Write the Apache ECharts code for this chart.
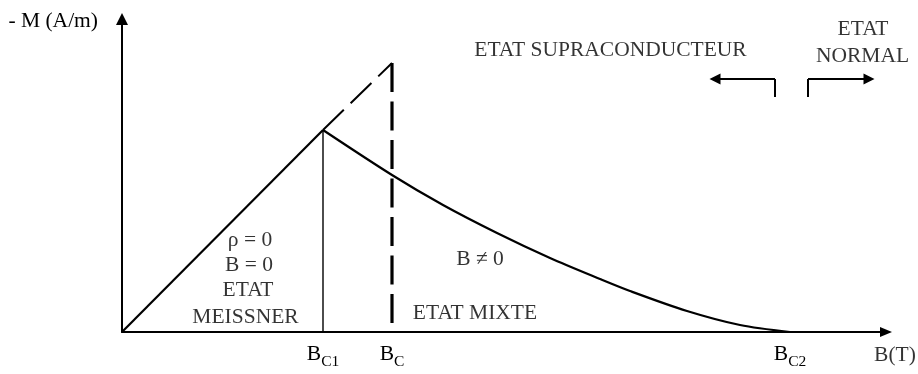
<!DOCTYPE html>
<html>
<head>
<meta charset="utf-8">
<script src="https://cdn.jsdelivr.net/npm/echarts@6/dist/echarts.min.js"></script>
<style>
  html, body { margin: 0; padding: 0; background: #fff; }
  #chart { width: 918px; height: 374px; }
</style>
</head>
<body>
<div id="chart"></div>
<script>
// Magnetisation curve of a type II superconductor (arbitrary units)
const criticalFields = [201, 270, 668];          // B_C1, B_C, B_C2
const criticalLabels = ['C1', 'C', 'C2'];
const meissnerLine = [[0, 0], [201, 202]];       // -M = B/mu0 up to B_C1
const extensionLine = [[201, 202], [270, 269]];  // ideal type I continuation
const bcDrop = [[270, 269], [270, 0]];           // type I drop at B_C
const bc1Drop = [[201, 0], [201, 202]];
const mixedCurve = [
  [201, 202], [270, 157], [321, 127], [375, 99], [428, 74],
  [478, 53], [508, 41], [565, 21], [618, 7], [668, 0]
];

const FONT = '"Liberation Serif", "Times New Roman", serif';
const INK = '#000';
const TEXT_SIZE = 21.5;

// Region captions placed in data space
const captions = [
  { text: 'ρ = 0', at: [128, 92] },
  { text: 'B = 0', at: [127, 67] },
  { text: 'ETAT', at: [126, 41.5] },
  { text: 'MEISSNER', at: [123.5, 15] },
  { text: 'B ≠ 0', at: [358, 73] },
  { text: 'ETAT MIXTE', at: [353, 19] },
  { text: 'ETAT SUPRACONDUCTEUR', at: [488.5, 282] },
  { text: 'ETAT', at: [741, 302.5] },
  { text: 'NORMAL', at: [740.5, 275.5] },
  { text: 'B(T)', at: [773, -23] }
];

// Bracket arrows separating superconducting and normal states
const bracketStems = [
  { coords: [[653, 235], [653, 253]] },
  { coords: [[686, 235], [686, 253]] }
];
const bracketArrows = [
  { coords: [[653, 253], [593, 253]] },
  { coords: [[686, 253], [747, 253]] }
];

function lineSeries(data, opts) {
  return Object.assign({
    type: 'line',
    data: data,
    showSymbol: false,
    symbol: 'none',
    silent: true,
    animation: false,
    lineStyle: { color: INK, width: 2.2 }
  }, opts || {});
}

const chart = echarts.init(document.getElementById('chart'), null, { renderer: 'canvas' });

chart.setOption({
  backgroundColor: '#fff',
  animation: false,
  grid: { left: 122, right: 32, top: 19, bottom: 42, containLabel: false },
  xAxis: {
    type: 'value',
    min: 0,
    max: 764,
    splitLine: { show: false },
    axisTick: { show: false },
    axisLine: {
      onZero: false,
      symbol: ['none', 'triangle'],
      symbolSize: [10, 12],
      lineStyle: { color: INK, width: 2 }
    },
    axisLabel: {
      customValues: criticalFields,
      margin: 10,
      formatter: function (v) {
        const i = criticalFields.indexOf(v);
        return '{b|B}{s|' + criticalLabels[i] + '}';
      },
      rich: {
        b: { fontFamily: FONT, fontSize: TEXT_SIZE, color: INK, lineHeight: 24 },
        s: { fontFamily: FONT, fontSize: 15.5, color: INK, lineHeight: 16, padding: [16, 0, 0, 0] }
      }
    }
  },
  yAxis: {
    type: 'value',
    min: 0,
    max: 313,
    splitLine: { show: false },
    axisTick: { show: false },
    axisLabel: { show: false },
    axisLine: {
      onZero: false,
      symbol: ['none', 'triangle'],
      symbolSize: [12, 12],
      lineStyle: { color: INK, width: 2 }
    },
    name: '- M (A/m)',
    nameLocation: 'end',
    nameGap: -2,
    nameMoveOverlap: false,
    nameTextStyle: {
      fontFamily: FONT, fontSize: TEXT_SIZE, color: INK,
      align: 'right', verticalAlign: 'middle', padding: [0, 24, 0, 0]
    }
  },
  series: [
    lineSeries(meissnerLine),
    lineSeries(extensionLine, { lineStyle: { color: INK, width: 2, type: [29, 9.5] } }),
    lineSeries(bcDrop, { lineStyle: { color: INK, width: 3.2, type: [29, 9.5] } }),
    lineSeries(bc1Drop, { lineStyle: { color: INK, width: 1.4 } }),
    lineSeries(mixedCurve, { smooth: 0.3 }),
    {
      type: 'scatter',
      silent: true,
      clip: false,
      symbolSize: 1,
      itemStyle: { color: 'transparent' },
      data: captions.map(c => ({ value: c.at, name: c.text })),
      label: {
        show: true,
        position: 'inside',
        formatter: p => p.name,
        fontFamily: FONT,
        fontSize: TEXT_SIZE,
        color: INK
      }
    },
    {
      type: 'lines',
      coordinateSystem: 'cartesian2d',
      silent: true,
      symbol: 'none',
      lineStyle: { color: INK, width: 2, opacity: 1 },
      data: bracketStems
    },
    {
      type: 'lines',
      coordinateSystem: 'cartesian2d',
      silent: true,
      symbol: ['none', 'triangle'],
      symbolSize: 11,
      lineStyle: { color: INK, width: 2, opacity: 1 },
      data: bracketArrows
    }
  ]
});
</script>
</body>
</html>
